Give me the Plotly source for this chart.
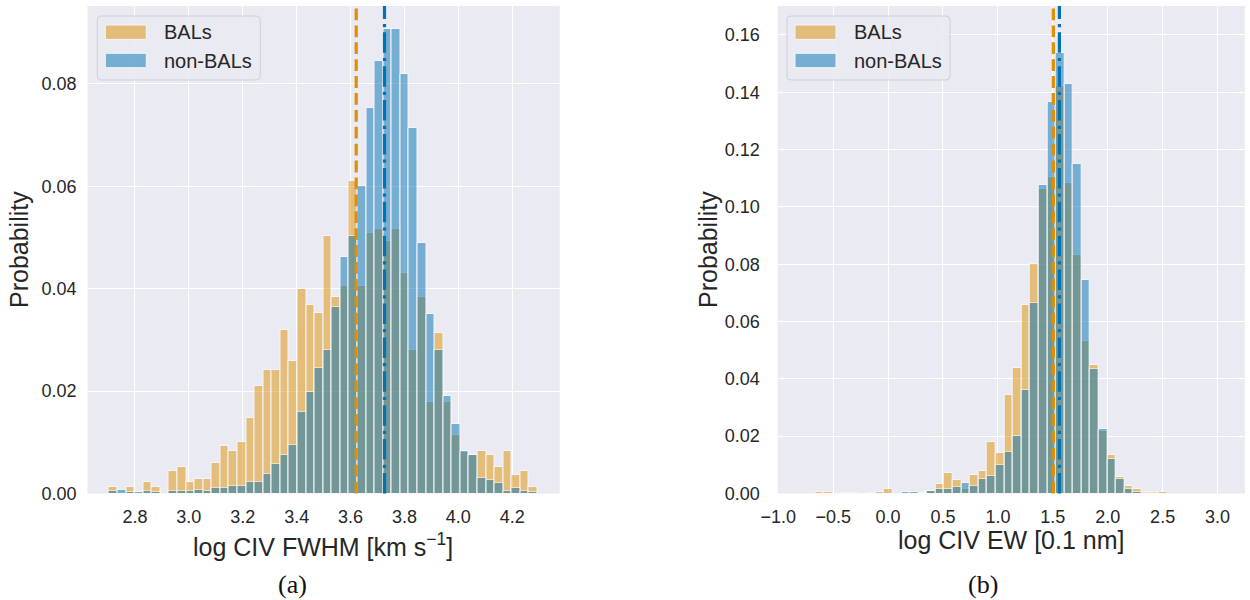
import numpy as np
import plotly.graph_objects as go

# ---------------- data ----------------
# (a) log CIV FWHM histogram (probability per bin)
fwhm_bin_start = 2.7035
fwhm_bin_width = 0.0318
fwhm_bal = [0.0013, 0.0000, 0.0013, 0.0000, 0.0022, 0.0013, 0.0000, 0.0044, 0.0052, 0.0022,
            0.0029, 0.0029, 0.0060, 0.0092, 0.0083, 0.0100, 0.0148, 0.0210, 0.0242, 0.0242,
            0.0320, 0.0258, 0.0399, 0.0368, 0.0352, 0.0502, 0.0383, 0.0406, 0.0610, 0.0406,
            0.0508, 0.0517, 0.0493, 0.0517, 0.0430, 0.0280, 0.0383, 0.0178, 0.0313, 0.0178,
            0.0115, 0.0082, 0.0076, 0.0083, 0.0076, 0.0052, 0.0083, 0.0036, 0.0044, 0.0013]
fwhm_nonbal = [0.0004, 0.0006, 0.0003, 0.0003, 0.0004, 0.0002, 0.0000, 0.0005, 0.0005, 0.0005,
               0.0006, 0.0004, 0.0010, 0.0010, 0.0015, 0.0015, 0.0022, 0.0022, 0.0039, 0.0057,
               0.0075, 0.0094, 0.0159, 0.0198, 0.0245, 0.0281, 0.0365, 0.0461, 0.0502, 0.0600,
               0.0753, 0.0845, 0.0907, 0.0907, 0.0820, 0.0713, 0.0490, 0.0350, 0.0280, 0.0191,
               0.0136, 0.0083, 0.0076, 0.0031, 0.0027, 0.0021, 0.0004, 0.0010, 0.0004, 0.0003]
fwhm_mean_bal = 3.621
fwhm_mean_nonbal = 3.726
fwhm_xticks = [2.8, 3.0, 3.2, 3.4, 3.6, 3.8, 4.0, 4.2]
fwhm_xticklabels = ["2.8", "3.0", "3.2", "3.4", "3.6", "3.8", "4.0", "4.2"]
fwhm_yticks = [0.00, 0.02, 0.04, 0.06, 0.08]
fwhm_yticklabels = ["0.00", "0.02", "0.04", "0.06", "0.08"]

# (b) log CIV EW histogram (probability per bin)
ew_bin_start = -0.662
ew_bin_width = 0.0782
ew_bal = [0.0005, 0.0004, 0.0000, 0.0000, 0.0000, 0.0000, 0.0002, 0.0004, 0.0017, 0.0000,
          0.0001, 0.0001, 0.0002, 0.0008, 0.0034, 0.0072, 0.0047, 0.0016, 0.0064, 0.0079,
          0.0180, 0.0142, 0.0342, 0.0438, 0.0656, 0.0800, 0.1061, 0.1105, 0.1421, 0.1084,
          0.0831, 0.0532, 0.0448, 0.0217, 0.0134, 0.0056, 0.0026, 0.0017, 0.0004, 0.0004,
          0.0004]
ew_nonbal = [0.0000, 0.0000, 0.0000, 0.0002, 0.0001, 0.0000, 0.0000, 0.0000, 0.0000, 0.0000,
             0.0005, 0.0004, 0.0003, 0.0008, 0.0017, 0.0014, 0.0022, 0.0036, 0.0027, 0.0049,
             0.0060, 0.0098, 0.0145, 0.0201, 0.0361, 0.0665, 0.1076, 0.1367, 0.1538, 0.1428,
             0.1150, 0.0744, 0.0436, 0.0225, 0.0119, 0.0049, 0.0014, 0.0005, 0.0001, 0.0001,
             0.0000]
ew_mean_bal = 1.505
ew_mean_nonbal = 1.560
ew_xticks = [-1.0, -0.5, 0.0, 0.5, 1.0, 1.5, 2.0, 2.5, 3.0]
ew_xticklabels = ["\u22121.0", "\u22120.5", "0.0", "0.5", "1.0", "1.5", "2.0", "2.5", "3.0"]
ew_yticks = [0.00, 0.02, 0.04, 0.06, 0.08, 0.10, 0.12, 0.14, 0.16]
ew_yticklabels = ["0.00", "0.02", "0.04", "0.06", "0.08", "0.10", "0.12", "0.14", "0.16"]

series_names = ["BALs", "non-BALs"]
x_titles = ["log CIV FWHM [km s<sup>\u22121</sup>]", "log CIV EW [0.1 nm]"]
y_title = "Probability"
captions = ["(a)", "(b)"]

# ---------------- style ----------------
W, H = 1250, 600
ORANGE = "#DE8F05"
BLUE = "#0173B2"
TXT = "#262626"
FONT = "Liberation Sans"


def px(xp):
    return xp / W


def py(yp):
    return 1 - yp / H


fig = go.Figure()


def add_hist(start, width, bal, nonbal, xa, ya):
    n = len(bal)
    centers = start + (np.arange(n) + 0.5) * width
    for vals, col, name in [(bal, ORANGE, series_names[0]), (nonbal, BLUE, series_names[1])]:
        fig.add_trace(go.Bar(
            x=centers, y=vals, width=width, name=name, xaxis=xa, yaxis=ya,
            marker=dict(color=col, line=dict(color="white", width=1)),
            opacity=0.5, showlegend=False))


add_hist(fwhm_bin_start, fwhm_bin_width, fwhm_bal, fwhm_nonbal, "x", "y")
add_hist(ew_bin_start, ew_bin_width, ew_bal, ew_nonbal, "x2", "y2")

ydom = [py(493.5), py(6)]
axis_common = dict(showgrid=True, gridcolor="white", gridwidth=1.4, zeroline=False,
                   showline=False, ticks="", tickfont=dict(family=FONT, size=18, color=TXT),
                   automargin=False)

fig.update_layout(
    width=W, height=H, margin=dict(l=0, r=0, t=0, b=0, autoexpand=False),
    paper_bgcolor="white", plot_bgcolor="#EAEAF2",
    barmode="overlay", bargap=0, showlegend=False,
    xaxis=dict(domain=[px(87.5), px(559.7)], range=[2.624, 4.376], ticklabelstandoff=10,
               tickvals=fwhm_xticks, ticktext=fwhm_xticklabels, anchor="y", **axis_common),
    yaxis=dict(domain=ydom, range=[0, 0.0952], ticklabelstandoff=10,
               tickvals=fwhm_yticks, ticktext=fwhm_yticklabels, anchor="x", **axis_common),
    xaxis2=dict(domain=[px(777.7), px(1245)], range=[-1.005, 3.25], ticklabelstandoff=10,
                tickvals=ew_xticks, ticktext=ew_xticklabels, anchor="y2", **axis_common),
    yaxis2=dict(domain=ydom, range=[0, 0.1701], ticklabelstandoff=17,
                tickvals=ew_yticks, ticktext=ew_yticklabels, anchor="x2", **axis_common),
)

# mean lines
for xr, m_bal, m_non in [("x", fwhm_mean_bal, fwhm_mean_nonbal), ("x2", ew_mean_bal, ew_mean_nonbal)]:
    yr = "y domain" if xr == "x" else "y2 domain"
    fig.add_shape(type="line", xref=xr, yref=yr, x0=m_bal, x1=m_bal, y0=0, y1=1,
                  line=dict(color=ORANGE, width=3.2, dash="11.8px,5.1px"), layer="above")
    fig.add_shape(type="line", xref=xr, yref=yr, x0=m_non, x1=m_non, y0=0, y1=1,
                  line=dict(color=BLUE, width=3.2, dash="20.5px,5.1px,3.2px,5.1px"), layer="above")


def rounded_rect(x0, y0, x1, y1, r):
    pts = [
        f"M{px(x0 + r)},{py(y0)}", f"L{px(x1 - r)},{py(y0)}", f"Q{px(x1)},{py(y0)} {px(x1)},{py(y0 + r)}",
        f"L{px(x1)},{py(y1 - r)}", f"Q{px(x1)},{py(y1)} {px(x1 - r)},{py(y1)}",
        f"L{px(x0 + r)},{py(y1)}", f"Q{px(x0)},{py(y1)} {px(x0)},{py(y1 - r)}",
        f"L{px(x0)},{py(y0 + r)}", f"Q{px(x0)},{py(y0)} {px(x0 + r)},{py(y0)}", "Z"]
    return " ".join(pts)


# legends (drawn manually to match the wide swatches)
for lx in [97.3, 787.0]:
    fig.add_shape(type="path", xref="paper", yref="paper", path=rounded_rect(lx, 16, lx + 163, 80, 4),
                  fillcolor="rgba(234,234,242,0.85)", line=dict(color="rgba(204,204,210,0.9)", width=1),
                  layer="above")
    for i, (col, yc) in enumerate([(ORANGE, 32.2), (BLUE, 60.5)]):
        fig.add_shape(type="rect", xref="paper", yref="paper",
                      x0=px(lx + 8), x1=px(lx + 49), y0=py(yc + 7.2), y1=py(yc - 7.2),
                      fillcolor=col, opacity=0.5, line=dict(color="white", width=1), layer="above")
        fig.add_annotation(text=series_names[i], xref="paper", yref="paper", x=px(lx + 65), y=py(yc),
                           xanchor="left", yanchor="middle", showarrow=False,
                           font=dict(family=FONT, size=20, color=TXT))

# axis titles
for cx, cy, t in [(323.5, 545, x_titles[0]), (1011, 540, x_titles[1])]:
    fig.add_annotation(text=t, xref="paper", yref="paper", x=px(cx), y=py(cy),
                       xanchor="center", yanchor="middle", showarrow=False,
                       font=dict(family=FONT, size=25, color=TXT))
for cx in [19, 708]:
    fig.add_annotation(text=y_title, xref="paper", yref="paper", x=px(cx), y=py(250),
                       xanchor="center", yanchor="middle", showarrow=False, textangle=-90,
                       font=dict(family=FONT, size=25, color=TXT))
# captions
for cx, t in [(292, captions[0]), (983, captions[1])]:
    fig.add_annotation(text=t, xref="paper", yref="paper", x=px(cx), y=py(584),
                       xanchor="center", yanchor="middle", showarrow=False,
                       font=dict(family="Liberation Serif", size=26, color="#111111"))

fig.write_html("out.html")
